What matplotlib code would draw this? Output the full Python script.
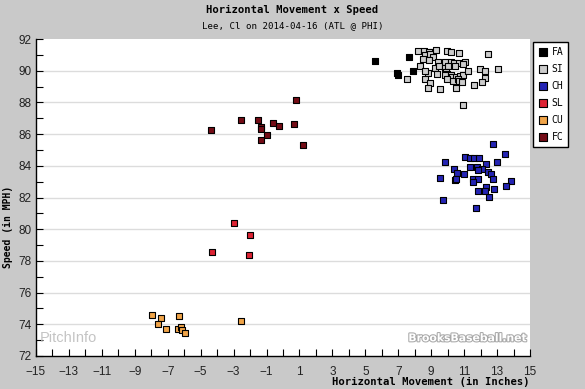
import matplotlib
matplotlib.use("Agg")
import matplotlib.pyplot as plt
import matplotlib.patheffects as pe
import numpy as np

# ====================== DATA ======================
pitch_types = ['FA', 'SI', 'CH', 'SL', 'CU', 'FC']
pitch_colors = ['#000000', '#cccccc', '#2424b4', '#dd2233', '#f0a448', '#740c16']

fa_x = [5.60, 7.67, 7.91, 6.94, 7.00, 9.02]
fa_y = [90.59, 90.85, 89.96, 89.84, 89.71, 91.18]

si_x = [8.21, 8.58, 8.88, 9.31, 9.97, 10.22, 10.70, 12.46, 8.64, 8.94,
        9.12, 8.52, 8.88, 9.43, 9.85, 10.22, 10.40, 10.70, 11.07, 10.94,
        8.33, 9.24, 9.49, 9.85, 10.03, 10.46, 9.37, 9.91, 9.97, 8.82,
        8.64, 9.85, 10.22, 10.28, 10.52, 10.76, 10.94, 11.25, 11.98, 12.28,
        13.07, 7.51, 8.64, 9.97, 10.34, 10.64, 10.70, 10.88, 8.94, 12.28,
        12.10, 11.61, 8.82, 9.55, 10.52, 10.94]
si_y = [91.24, 91.24, 91.18, 91.31, 91.24, 91.18, 91.12, 91.03, 90.97, 91.03,
        90.85, 90.72, 90.68, 90.55, 90.55, 90.55, 90.47, 90.47, 90.55, 90.42,
        90.30, 90.17, 90.30, 90.17, 90.30, 90.30, 89.79, 89.92, 89.79, 89.85,
        89.96, 89.73, 89.73, 89.60, 89.60, 89.67, 89.73, 89.98, 90.11, 89.98,
        90.11, 89.48, 89.48, 89.48, 89.35, 89.48, 89.35, 89.29, 89.22, 89.54,
        89.29, 89.10, 88.91, 88.85, 88.91, 87.84]

ch_x = [12.77, 13.49, 9.85, 11.07, 11.37, 11.61, 11.88, 13.01, 12.34, 11.37,
        11.80, 10.40, 12.10, 11.86, 10.58, 11.01, 12.46, 12.64, 9.55, 10.46,
        10.52, 11.55, 11.86, 11.55, 12.77, 13.86, 13.55, 12.34, 12.28, 11.86,
        12.83, 12.52, 9.73, 11.73]
ch_y = [85.36, 84.73, 84.22, 84.54, 84.47, 84.47, 84.47, 84.22, 84.09, 83.91,
        83.91, 83.78, 83.78, 83.72, 83.53, 83.46, 83.59, 83.46, 83.21, 83.09,
        83.15, 83.15, 83.15, 82.96, 83.15, 83.02, 82.71, 82.64, 82.39, 82.39,
        82.52, 82.01, 81.82, 81.32]

sl_x = [-2.96, -1.99, -4.30, -2.05]
sl_y = [80.37, 79.61, 78.54, 78.35]

cu_x = [-7.94, -7.39, -7.57, -7.09, -6.30, -6.38, -6.18, -6.12, -5.93, -2.53]
cu_y = [74.57, 74.38, 74.02, 73.68, 74.50, 73.68, 73.81, 73.66, 73.43, 74.19]

fc_x = [0.77, -2.53, -1.50, -4.36, -1.32, -1.32, -0.59, -0.23, 0.68, -0.96,
        -1.32, 1.23]
fc_y = [88.13, 86.87, 86.87, 86.24, 86.45, 86.30, 86.68, 86.49, 86.62, 85.92,
        85.61, 85.29]

series = [(fa_x, fa_y), (si_x, si_y), (ch_x, ch_y),
          (sl_x, sl_y), (cu_x, cu_y), (fc_x, fc_y)]

# ====================== FIGURE ======================
bg = '#c9c9c9'
mono = 'DejaVu Sans Mono'

fig = plt.figure(figsize=(5.85, 3.89), dpi=100, facecolor=bg)
ax = fig.add_axes([36 / 585, 1 - 356 / 389, 494 / 585, 317 / 389])
ax.set_facecolor('white')

for (xs, ys), name, col in zip(series, pitch_types, pitch_colors):
    ax.scatter(xs, ys, marker='s', s=17, c=col, edgecolors='black',
               linewidths=0.8, label=name, zorder=3)

ax.set_xlim(-15, 15)
ax.set_ylim(72, 92)

# grid at every even speed
for v in range(74, 92, 2):
    ax.axhline(v, color='#dcdcdc', lw=1.0, zorder=1)

ax.set_xticks(np.arange(-15, 16, 2))
ax.set_xticks(np.arange(-14, 15, 2), minor=True)
ax.set_yticks(np.arange(72, 93, 2))
ax.set_yticks(np.arange(73, 92, 2), minor=True)
ax.tick_params(which='both', direction='in', length=5, width=0.8,
               color='black', labelsize=8.5, labelcolor='#222222',
               top=False, right=False)
ax.tick_params(axis='x', which='major', pad=7)
for lab in ax.get_xticklabels() + ax.get_yticklabels():
    lab.set_fontfamily('Liberation Sans')

for side in ['top', 'right']:
    ax.spines[side].set_visible(False)
for side in ['left', 'bottom']:
    ax.spines[side].set_linewidth(1.0)
    ax.spines[side].set_color('black')

# ====================== TEXT ======================
fig.text(0.5, 1 - 10 / 389, 'Horizontal Movement x Speed', ha='center',
         va='center', family=mono, weight='bold', fontsize=7.6)
fig.text(0.5, 1 - 26 / 389, 'Lee, Cl on 2014-04-16 (ATL @ PHI)',
         ha='center', va='center', family=mono, fontsize=6.6)
fig.text(8 / 585, 1 - 227 / 389, 'Speed (in MPH)', rotation=90,
         ha='center', va='center', family=mono, weight='bold', fontsize=7)
fig.text(530 / 585, 1 - 382 / 389, 'Horizontal Movement (in Inches)',
         ha='right', va='center', family=mono, weight='bold', fontsize=7.6)

# watermarks
ax.text(-14.75, 72.7, 'PitchInfo', color='#c4c4c4', fontsize=10.5,
        family='Liberation Sans', ha='left', va='bottom', zorder=2)
ax.text(14.8, 72.8, 'BrooksBaseball.net', color='white', fontsize=7.8,
        family='DejaVu Sans', weight='bold', ha='right', va='bottom',
        zorder=2, path_effects=[pe.withStroke(linewidth=1.5,
                                              foreground='#a8a8a8')])

# ====================== LEGEND ======================
leg = ax.legend(loc='upper left', bbox_to_anchor=(533 / 585, 1 - 42 / 389),
                bbox_transform=fig.transFigure, frameon=True, fancybox=False,
                edgecolor='black', facecolor='white', framealpha=1,
                prop={'family': mono, 'size': 7}, labelspacing=0.72,
                handletextpad=0.4, handlelength=1.0, borderpad=0.5,
                markerscale=1.35, borderaxespad=0)
leg.get_frame().set_linewidth(1.0)

fig.savefig('out.png', dpi=100, facecolor=bg)
